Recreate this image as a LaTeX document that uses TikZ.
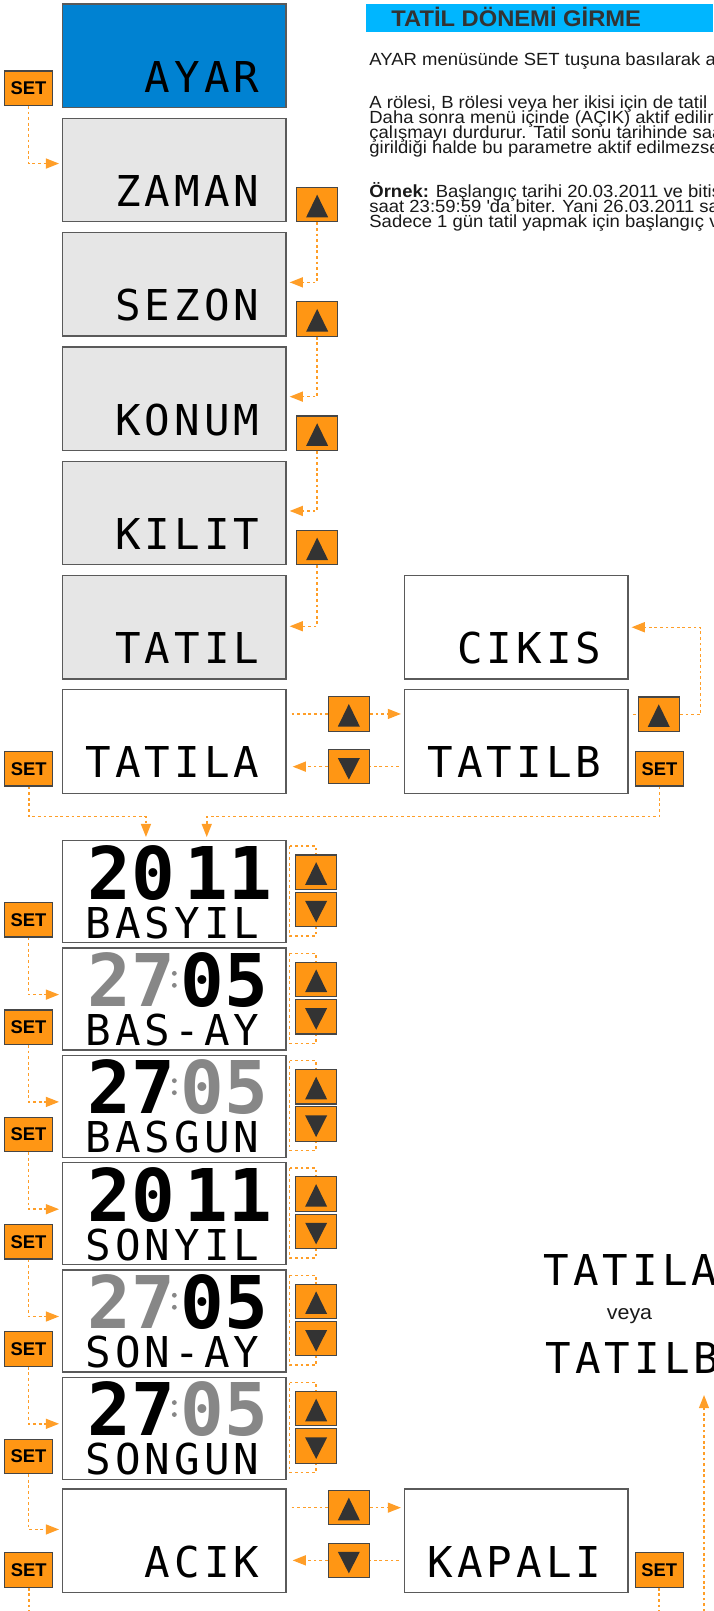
\documentclass[tikz,border=0pt]{standalone}
\usepackage{fontspec}
\setmainfont{Liberation Sans}[FakeStretch=1.05]
\newfontfamily\btnfont{Liberation Sans}
\newfontfamily\lcdfont{DejaVu Sans Mono}[LetterSpace=9.6]
\newfontfamily\digitfont{DejaVu Sans Mono}
\usetikzlibrary{arrows.meta,positioning,calc}

\definecolor{btnorange}{RGB}{255,150,20}
\definecolor{lineorange}{RGB}{255,158,40}
\definecolor{btnline}{RGB}{70,70,70}
\definecolor{arrowdark}{RGB}{51,51,51}
\definecolor{ayarblue}{RGB}{0,130,210}
\definecolor{titleblue}{RGB}{0,182,255}
\definecolor{menugray}{RGB}{230,230,230}
\definecolor{boxline}{RGB}{90,90,90}
\definecolor{lcdgray}{RGB}{135,135,135}
\definecolor{bodyink}{RGB}{25,25,25}
\definecolor{titleink}{RGB}{51,51,51}

\begin{document}
\begin{tikzpicture}[
  x=0.5pt, y=-0.5pt,
  node distance=4.75pt,
  menubox/.style={rectangle, draw=boxline, line width=0.65pt, fill=menugray, minimum width=111.65pt, minimum height=51.75pt, inner sep=0},
  lcdbox/.style={menubox, fill=white, minimum height=51pt},
  lcdtext/.style={font=\lcdfont\fontsize{21.25pt}{22pt}\selectfont, inner sep=0, anchor=base east},
  bigdig/.style={font=\digitfont\bfseries\fontsize{36.35pt}{36pt}\selectfont, inner sep=0},
  dot/.style={fill=lcdgray},
  btn/.style={rectangle, draw=btnline, line width=0.6pt, fill=btnorange, minimum width=20.6pt, minimum height=17.2pt, inner sep=0},
  upbtn/.style={btn, path picture={\fill[arrowdark] ([yshift=5pt]path picture bounding box.center) -- ([shift={(5.5pt,-6.3pt)}]path picture bounding box.center) -- ([shift={(-5.5pt,-6.3pt)}]path picture bounding box.center) -- cycle;}},
  dnbtn/.style={btn, path picture={\fill[arrowdark] ([yshift=-6.5pt]path picture bounding box.center) -- ([shift={(5.5pt,4.3pt)}]path picture bounding box.center) -- ([shift={(-5.5pt,4.3pt)}]path picture bounding box.center) -- cycle;}},
  setbtn/.style={btn, minimum width=24pt, font=\btnfont\bfseries\fontsize{9.2pt}{9pt}\selectfont},
  flow/.style={draw=lineorange, line width=0.75pt, dash pattern=on 1.4pt off 1.4pt},
  arr/.style={flow, -{Triangle[length=6.6pt,width=5pt]}, shorten >=1.5pt},
  body/.style={font=\fontsize{8.8pt}{7.5pt}\selectfont, text=bodyink, inner sep=0, anchor=base west}
]
\useasboundingbox (0,0) rectangle (713,1611);
\clip (0,0) rectangle (713,1611);

% text on the right
\fill[titleblue] (366,4) rectangle (713,31.7);
\node[font=\bfseries\fontsize{11.3pt}{12pt}\selectfont, text=titleink, inner sep=0, anchor=base west] (title) at (391,26.7) {TATİL DÖNEMİ GİRME};
\node[body] (line1) at (369,65.7) {AYAR menüsünde SET tuşuna basılarak a};
\node[body] (line2) at (369,109) {A rölesi, B rölesi veya her ikisi için de tatil};
\node[body] (line3) at (369,124) {Daha sonra menü içinde (AÇIK) aktif edilir};
\node[body] (line4) at (369,139) {çalışmayı durdurur. Tatil sonu tarihinde saat};
\node[body] (line5) at (369,154) {girildiği halde bu parametre aktif edilmezse};
\node[body] (line6) at (369,197) {\textbf{Örnek:} Başlangıç tarihi 20.03.2011 ve bitiş};
\node[body] (line7) at (369,212) {saat 23:59:59 {\textquotesingle}da biter. Yani 26.03.2011 saat};
\node[body] (line8) at (369,227) {Sadece 1 gün tatil yapmak için başlangıç ve};

% menu column
\node[menubox, fill=ayarblue] (ayar) at (174.35,55.75) {};
\node[menubox, below=of ayar] (zaman) {};
\node[menubox, below=of zaman] (sezon) {};
\node[menubox, below=of sezon] (konum) {};
\node[menubox, below=of konum] (kilit) {};
\node[menubox, below=of kilit] (tatil) {};
\node[menubox, fill=white, below=of tatil] (tatila) {};
\node[menubox, fill=white, right=58.65pt of tatila] (tatilb) {};
\node[menubox, fill=white, above=of tatilb] (cikis) {};

\node[lcdtext] (ayartxt) at ([shift={(-13.4pt,8pt)}]ayar.south east) {AYAR};
\node[lcdtext] (zamantxt) at ([shift={(-13.4pt,8pt)}]zaman.south east) {ZAMAN};
\node[lcdtext] (sezontxt) at ([shift={(-13.4pt,8pt)}]sezon.south east) {SEZON};
\node[lcdtext] (konumtxt) at ([shift={(-13.4pt,8pt)}]konum.south east) {KONUM};
\node[lcdtext] (kilittxt) at ([shift={(-13.4pt,8pt)}]kilit.south east) {KILIT};
\node[lcdtext] (tatiltxt) at ([shift={(-13.4pt,8pt)}]tatil.south east) {TATIL};
\node[lcdtext] (tatilatxt) at ([shift={(-13.4pt,8pt)}]tatila.south east) {TATILA};
\node[lcdtext] (tatilbtxt) at ([shift={(-13.4pt,8pt)}]tatilb.south east) {TATILB};
\node[lcdtext] (cikistxt) at ([shift={(-13.4pt,8pt)}]cikis.south east) {CIKIS};

\node[setbtn, anchor=south east] (ayarset) at ([shift={(-4.5pt,1.1pt)}]ayar.south west) {SET};
\node[upbtn, anchor=south west] (zamanup) at ([xshift=4.65pt]zaman.south east) {};
\node[upbtn, anchor=south west] (sezonup) at ([xshift=4.65pt]sezon.south east) {};
\node[upbtn, anchor=south west] (konumup) at ([xshift=4.65pt]konum.south east) {};
\node[upbtn, anchor=south west] (kilitup) at ([xshift=4.65pt]kilit.south east) {};

\draw[arr] (ayarset.south) |- ([yshift=3.25pt]zaman.west);
\draw[arr] (zamanup.south) |- ([yshift=1pt]sezon.east);
\draw[arr] (sezonup.south) |- ([yshift=1pt]konum.east);
\draw[arr] (konumup.south) |- ([yshift=1pt]kilit.east);
\draw[arr] (kilitup.south) |- ([yshift=0.5pt]tatil.east);

% relay A / relay B
\node[upbtn, anchor=north west] (abup) at ([shift={(20.5pt,-3.5pt)}]tatila.north east) {};
\node[dnbtn, anchor=north west] (abdn) at ([shift={(20.5pt,-29.85pt)}]tatila.north east) {};
\node[upbtn, anchor=north west] (bup) at ([shift={(4.5pt,-3.65pt)}]tatilb.north east) {};
\node[setbtn, anchor=south east] (aset) at ([shift={(-4.35pt,3.7pt)}]tatila.south west) {SET};
\node[setbtn, anchor=south west] (bset) at ([shift={(3.2pt,3.7pt)}]tatilb.south east) {SET};

\draw[flow, shorten <=2.5pt] (tatila.east |- abup) -- (abup);
\draw[arr] (abup) -- (tatilb.west |- abup);
\draw[flow, shorten <=2.5pt] (tatilb.west |- abdn) -- (abdn);
\draw[arr, shorten >=3pt] (abdn) -- (tatila.east |- abdn);
\draw[flow, shorten <=2.2pt] (tatilb.east |- bup) -- (bup);
\draw[arr] (bup.east) -- ++(20.7,0) |- (cikis);

% date entry
\node[lcdbox] (basyil) at (174.35,891.7) {};
\node[lcdbox, below=2pt of basyil] (basay) {};
\node[lcdbox, below=2pt of basay] (basgun) {};
\node[lcdbox, below=2pt of basgun] (sonyil) {};
\node[lcdbox, below=2pt of sonyil] (sonay) {};
\node[lcdbox, below=2pt of sonay] (songun) {};

\draw[arr] (aset.south) -- ++(0,30) -| ($(basyil.north)+(-28.4,0)$);
\draw[arr] (bset.south) -- ++(0,30) -| ($(basyil.north)+(32.4,0)$);

\node[bigdig, anchor=base west] (basyilL) at ([shift={(12.6pt,-29.65pt)}]basyil.north west) {20};
\node[bigdig, anchor=base east] (basyilR) at ([shift={(-7pt,-29.65pt)}]basyil.north east) {11};
\node[lcdtext] (basyiltxt) at ([shift={(-13.4pt,2.5pt)}]basyil.south east) {BASYIL};

\node[bigdig, text=lcdgray, anchor=base west] (basayL) at ([shift={(12.6pt,-29.65pt)}]basay.north west) {27};
\fill[dot] ([yshift=-13pt]basay.north) circle[radius=1.2pt] ([yshift=-19pt]basay.north) circle[radius=1.2pt];
\node[bigdig, anchor=base east] (basayR) at ([shift={(-9pt,-29.65pt)}]basay.north east) {05};
\node[lcdtext] (basaytxt) at ([shift={(-13.4pt,2.5pt)}]basay.south east) {BAS-AY};

\node[bigdig, anchor=base west] (basgunL) at ([shift={(12.6pt,-29.65pt)}]basgun.north west) {27};
\fill[dot] ([yshift=-13pt]basgun.north) circle[radius=1.2pt] ([yshift=-19pt]basgun.north) circle[radius=1.2pt];
\node[bigdig, text=lcdgray, anchor=base east] (basgunR) at ([shift={(-9pt,-29.65pt)}]basgun.north east) {05};
\node[lcdtext] (basguntxt) at ([shift={(-13.4pt,2.5pt)}]basgun.south east) {BASGUN};

\node[bigdig, anchor=base west] (sonyilL) at ([shift={(12.6pt,-29.65pt)}]sonyil.north west) {20};
\node[bigdig, anchor=base east] (sonyilR) at ([shift={(-7pt,-29.65pt)}]sonyil.north east) {11};
\node[lcdtext] (sonyiltxt) at ([shift={(-13.4pt,2.5pt)}]sonyil.south east) {SONYIL};

\node[bigdig, text=lcdgray, anchor=base west] (sonayL) at ([shift={(12.6pt,-29.65pt)}]sonay.north west) {27};
\fill[dot] ([yshift=-13pt]sonay.north) circle[radius=1.2pt] ([yshift=-19pt]sonay.north) circle[radius=1.2pt];
\node[bigdig, anchor=base east] (sonayR) at ([shift={(-9pt,-29.65pt)}]sonay.north east) {05};
\node[lcdtext] (sonaytxt) at ([shift={(-13.4pt,2.5pt)}]sonay.south east) {SON-AY};

\node[bigdig, anchor=base west] (songunL) at ([shift={(12.6pt,-29.65pt)}]songun.north west) {27};
\fill[dot] ([yshift=-13pt]songun.north) circle[radius=1.2pt] ([yshift=-19pt]songun.north) circle[radius=1.2pt];
\node[bigdig, text=lcdgray, anchor=base east] (songunR) at ([shift={(-9pt,-29.65pt)}]songun.north east) {05};
\node[lcdtext] (songuntxt) at ([shift={(-13.4pt,2.5pt)}]songun.south east) {SONGUN};

% up/down pairs
\draw[flow] ([shift={(1.5pt,-3pt)}]basyil.north east) rectangle ([shift={(14.6pt,3.7pt)}]basyil.south east);
\draw[flow] ([shift={(1.5pt,-3pt)}]basay.north east) rectangle ([shift={(14.6pt,3.7pt)}]basay.south east);
\draw[flow] ([shift={(1.5pt,-3pt)}]basgun.north east) rectangle ([shift={(14.6pt,3.7pt)}]basgun.south east);
\draw[flow] ([shift={(1.5pt,-3pt)}]sonyil.north east) rectangle ([shift={(14.6pt,3.7pt)}]sonyil.south east);
\draw[flow] ([shift={(1.5pt,-3pt)}]sonay.north east) rectangle ([shift={(14.6pt,3.7pt)}]sonay.south east);
\draw[flow] ([shift={(1.5pt,-3pt)}]songun.north east) rectangle ([shift={(14.6pt,3.7pt)}]songun.south east);

\node[upbtn, anchor=north west] (basyilup) at ([shift={(4.15pt,-7.15pt)}]basyil.north east) {};
\node[dnbtn, anchor=north west] (basyildn) at ([shift={(4.15pt,-25.8pt)}]basyil.north east) {};
\node[upbtn, anchor=north west] (basayup) at ([shift={(4.15pt,-7.15pt)}]basay.north east) {};
\node[dnbtn, anchor=north west] (basaydn) at ([shift={(4.15pt,-25.8pt)}]basay.north east) {};
\node[upbtn, anchor=north west] (basgunup) at ([shift={(4.15pt,-7.15pt)}]basgun.north east) {};
\node[dnbtn, anchor=north west] (basgundn) at ([shift={(4.15pt,-25.8pt)}]basgun.north east) {};
\node[upbtn, anchor=north west] (sonyilup) at ([shift={(4.15pt,-7.15pt)}]sonyil.north east) {};
\node[dnbtn, anchor=north west] (sonyildn) at ([shift={(4.15pt,-25.8pt)}]sonyil.north east) {};
\node[upbtn, anchor=north west] (sonayup) at ([shift={(4.15pt,-7.15pt)}]sonay.north east) {};
\node[dnbtn, anchor=north west] (sonaydn) at ([shift={(4.15pt,-25.8pt)}]sonay.north east) {};
\node[upbtn, anchor=north west] (songunup) at ([shift={(4.15pt,-7.15pt)}]songun.north east) {};
\node[dnbtn, anchor=north west] (songundn) at ([shift={(4.15pt,-25.8pt)}]songun.north east) {};

% SET steps
\node[setbtn, anchor=south east] (basyilset) at ([shift={(-4.5pt,2.85pt)}]basyil.south west) {SET};
\node[setbtn, anchor=south east] (basayset) at ([shift={(-4.5pt,2.85pt)}]basay.south west) {SET};
\node[setbtn, anchor=south east] (basgunset) at ([shift={(-4.5pt,2.85pt)}]basgun.south west) {SET};
\node[setbtn, anchor=south east] (sonyilset) at ([shift={(-4.5pt,2.85pt)}]sonyil.south west) {SET};
\node[setbtn, anchor=south east] (sonayset) at ([shift={(-4.5pt,2.85pt)}]sonay.south west) {SET};
\node[setbtn, anchor=south east] (songunset) at ([shift={(-4.5pt,2.85pt)}]songun.south west) {SET};

\draw[arr] (basyilset.south) |- ([yshift=2.2pt]basay.west);
\draw[arr] (basayset.south) |- ([yshift=2.2pt]basgun.west);
\draw[arr] (basgunset.south) |- ([yshift=2.2pt]sonyil.west);
\draw[arr] (sonyilset.south) |- ([yshift=2.2pt]sonay.west);
\draw[arr] (sonayset.south) |- ([yshift=2.2pt]songun.west);

% on / off
\node[menubox, fill=white, below=4.2pt of songun] (acik) {};
\node[menubox, fill=white, right=58.65pt of acik] (kapali) {};
\node[lcdtext] (aciktxt) at ([shift={(-13.4pt,8pt)}]acik.south east) {ACIK};
\node[lcdtext] (kapalitxt) at ([shift={(-13.4pt,8pt)}]kapali.south east) {KAPALI};
\draw[arr] (songunset.south) |- ([yshift=5.6pt]acik.west);

\node[upbtn, anchor=north west] (acup) at ([shift={(20.5pt,-0.8pt)}]acik.north east) {};
\node[dnbtn, anchor=north west] (acdn) at ([shift={(20.5pt,-27.15pt)}]acik.north east) {};
\node[setbtn, anchor=south east] (acikset) at ([shift={(-4.35pt,2.6pt)}]acik.south west) {SET};
\node[setbtn, anchor=south west] (kapaliset) at ([shift={(3pt,2.6pt)}]kapali.south east) {SET};

\draw[flow, shorten <=2.5pt] (acik.east |- acup) -- (acup);
\draw[arr] (acup) -- (kapali.west |- acup);
\draw[flow, shorten <=2.5pt] (kapali.west |- acdn) -- (acdn);
\draw[arr, shorten >=3pt] (acdn) -- (acik.east |- acdn);

% back to the relay menu
\node[lcdtext, anchor=base west] (orA) at (543.3,1285) {TATILA};
\node[font=\fontsize{10.2pt}{10pt}\selectfont, text=bodyink, inner sep=0, anchor=base] (veya) at (629.5,1319.3) {veya};
\node[lcdtext, anchor=base west] (orB) at (545,1373.3) {TATILB};
\coordinate (back) at (704,1392);
\draw[arr] (acikset.south) -- ++(0,27) -| (back);
\draw[flow] (kapaliset.south) -- ++(0,27);
\end{tikzpicture}
\end{document}
